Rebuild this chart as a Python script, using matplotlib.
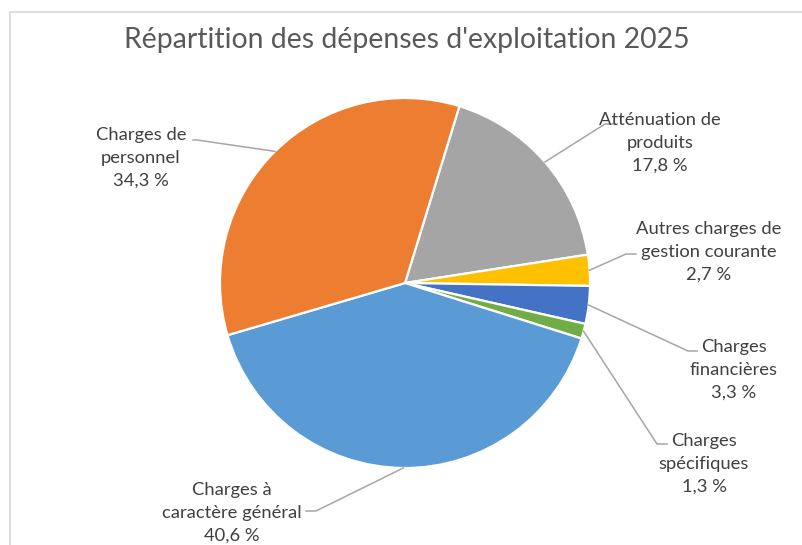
import numpy as np
import matplotlib
matplotlib.use("Agg")
import matplotlib.pyplot as plt

W, H = 803, 545

# data (clockwise order as drawn)
categories = ["Atténuation de\nproduits", "Autres charges de\ngestion courante",
              "Charges\nfinancières", "Charges\nspécifiques",
              "Charges à\ncaractère général", "Charges de\npersonnel"]
values = [17.8, 2.7, 3.3, 1.3, 40.6, 34.3]
colors = ["#A5A5A5", "#FFC000", "#4472C4", "#70AD47", "#5B9BD5", "#ED7D31"]

# label layout in pixels (y from top): text centre, elbow, attach point
text_pos = [(660, 143), (709, 252), (734, 370), (704, 464), (232, 513), (141, 158)]
elbows = [(605, 124), (626, 254), (688, 351), (657, 444), (316, 511), (197, 140)]
attach = [(615, 124), (636, 254), (697, 351), (667, 444), (306, 511), (193, 140)]

center = (405, 283)
radius = 185

plt.rcParams['font.family'] = ['Lato', 'DejaVu Sans']

fig = plt.figure(figsize=(W / 100, H / 100), dpi=100)
ax = fig.add_axes([0, 0, 1, 1])

# chart frame (partly visible)
ax.plot([10, 10, W], [0, H - 12, H - 12], color="#D9D9D9", lw=1.2, zorder=0)

wedges, _ = ax.pie(values, colors=colors, startangle=72.9, counterclock=False,
                   center=(center[0], H - center[1]), radius=radius,
                   wedgeprops=dict(edgecolor="white", linewidth=1.6),
                   frame=True)
ax.set_xlim(0, W)
ax.set_ylim(0, H)
ax.set_aspect('equal')
ax.axis('off')

for w, lab, val, tp, el, at in zip(wedges, categories, values, text_pos, elbows, attach):
    mid = np.deg2rad((w.theta1 + w.theta2) / 2)
    ex = center[0] + radius * np.cos(mid)
    ey = (H - center[1]) + radius * np.sin(mid)
    ax.plot([ex, el[0], at[0]], [ey, H - el[1], H - at[1]], color="#A6A6A6", lw=1.1)
    txt = lab + "\n" + ("%.1f %%" % val).replace(".", ",")
    ax.text(tp[0], H - tp[1], txt, ha="center", va="center", fontsize=13.2,
            color="#404040", linespacing=1.53)

ax.text(W / 2 + 5, H - 40, "Répartition des dépenses d'exploitation 2025",
        ha="center", va="center", fontsize=20.4, color="#595959")

fig.savefig("out.png", dpi=100)
